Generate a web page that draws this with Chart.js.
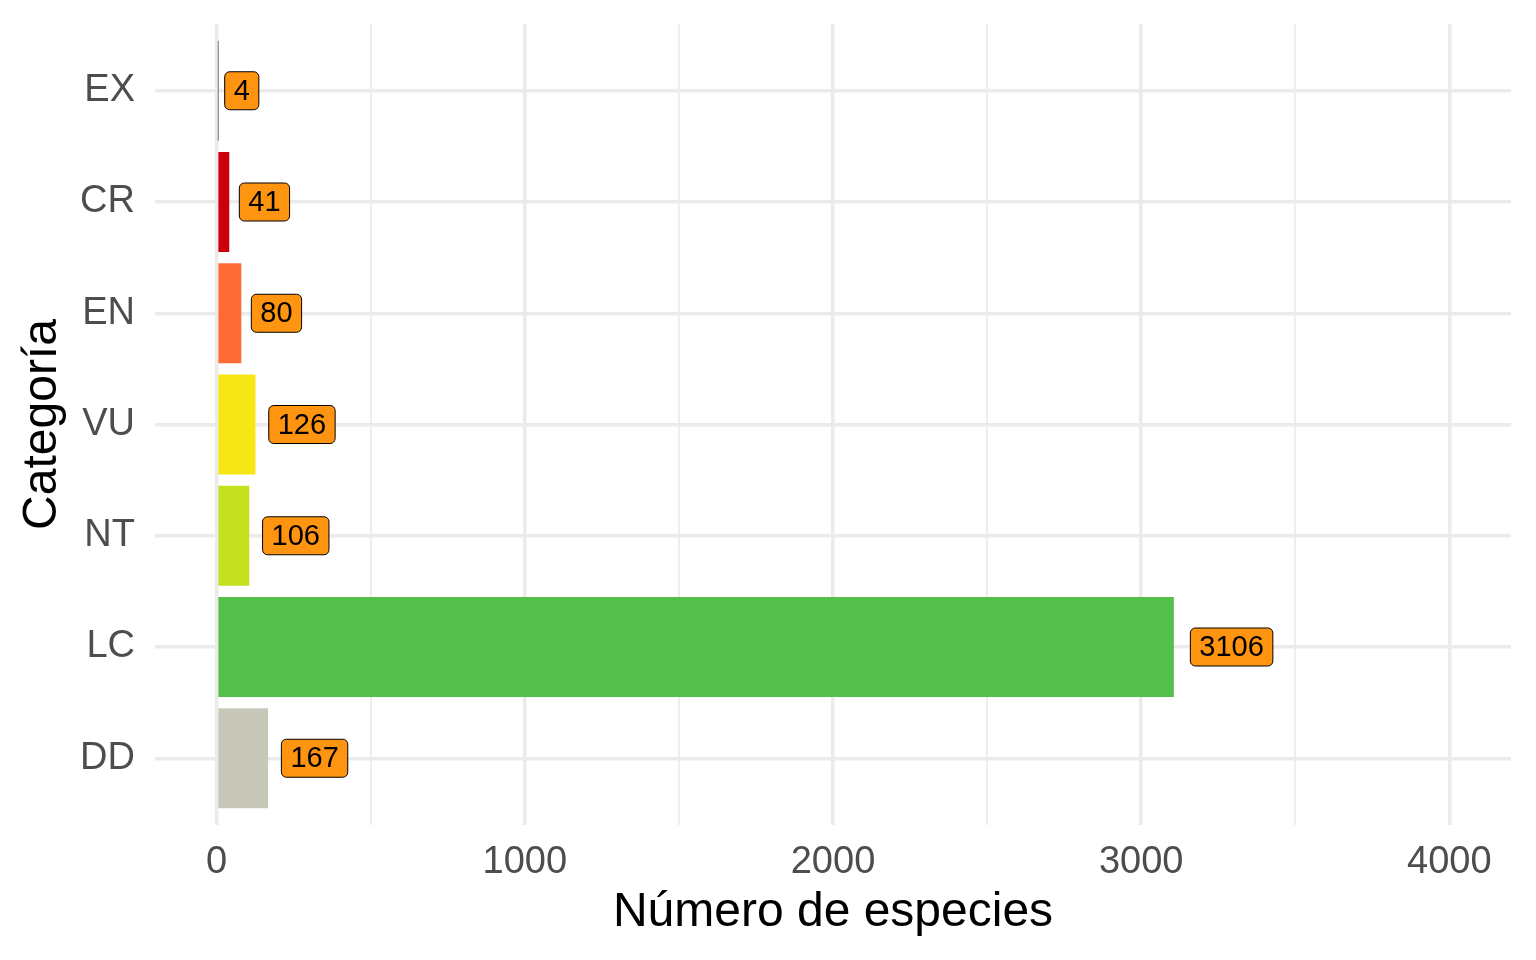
<!DOCTYPE html>
<html lang="es">
<head>
    <meta charset="utf-8" />
    <title>Especies por categoría</title>
    <script src="https://cdn.jsdelivr.net/npm/chart.js"></script>
    <style>
        html, body {
            margin: 0;
            padding: 0;
            background: #fff;
        }
        #divChart {
            width: 1536px;
            height: 960px;
        }
    </style>
</head>
<body>
    <div id="divChart">
        <canvas id="especiesChart"></canvas>
    </div>
    <script>
        var categorias = ['EX', 'CR', 'EN', 'VU', 'NT', 'LC', 'DD'];
        var especies = [4, 41, 80, 126, 106, 3106, 167];
        var ticksX = [0, 500, 1000, 1500, 2000, 2500, 3000, 3500, 4000];
        var colores = ['#000000', '#CC000A', '#FF6B35', '#F7E616', '#C5E01F', '#54BF4B', '#C8C8BA'];

        var fuente = '"Liberation Sans", Arial, sans-serif';

        // etiquetas naranjas a la derecha de cada barra (hjust = -0.2)
        var etiquetas = {
            id: 'etiquetas',
            afterDatasetsDraw: function (chart) {
                var ctx = chart.ctx;
                var xs = chart.scales.x;
                var ys = chart.scales.y;
                ctx.save();
                ctx.font = '29px ' + fuente;
                ctx.textBaseline = 'middle';
                ctx.textAlign = 'center';
                especies.forEach(function (v, i) {
                    var txt = String(v);
                    var w = ctx.measureText(txt).width + 18;
                    var h = 38;
                    var x0 = xs.getPixelForValue(v) + 0.2 * w;
                    var yc = ys.getPixelForValue(i);
                    ctx.beginPath();
                    ctx.roundRect(x0, yc - h / 2, w, h, 5);
                    ctx.fillStyle = '#FF9410';
                    ctx.fill();
                    ctx.lineWidth = 1;
                    ctx.strokeStyle = '#000';
                    ctx.stroke();
                    ctx.fillStyle = '#000';
                    ctx.fillText(txt, x0 + w / 2, yc + 1);
                });
                ctx.restore();
            }
        };

        var ctx = document.getElementById('especiesChart').getContext('2d');
        var myBarChart = new Chart(ctx, {
            type: 'bar',
            data: {
                datasets: [{
                    data: especies.map(function (v, i) { return { x: v, y: i }; }),
                    backgroundColor: colores,
                    borderWidth: 0,
                    barPercentage: 0.9,
                    categoryPercentage: 1
                }]
            },
            plugins: [etiquetas],
            options: {
                indexAxis: 'y',
                responsive: true,
                maintainAspectRatio: false,
                animation: false,
                layout: {
                    padding: { top: 24, right: 25, left: 0, bottom: 0 }
                },
                plugins: {
                    legend: { display: false },
                    tooltip: { enabled: false }
                },
                scales: {
                    x: {
                        type: 'linear',
                        min: -200,
                        max: 4200,
                        afterBuildTicks: function (s) {
                            s.ticks = ticksX.map(function (v) { return { value: v }; });
                        },
                        afterFit: function (s) {
                            s.height = 135;
                            s.paddingLeft = 0;
                            s.paddingRight = 0;
                        },
                        border: { display: false },
                        grid: {
                            color: '#EBEBEB',
                            drawTicks: false,
                            lineWidth: function (c) {
                                return c.tick && c.tick.value % 1000 === 0 ? 3.5 : 1.75;
                            }
                        },
                        ticks: {
                            autoSkip: false,
                            maxRotation: 0,
                            padding: 15,
                            color: '#4D4D4D',
                            font: { family: fuente, size: 38 },
                            callback: function (v) {
                                return v % 1000 === 0 ? String(v) : '';
                            }
                        },
                        title: {
                            display: true,
                            text: 'Número de especies',
                            color: '#000',
                            font: { family: fuente, size: 48, lineHeight: 1.2 },
                            padding: { top: 0, bottom: 18 }
                        }
                    },
                    y: {
                        type: 'linear',
                        reverse: true,
                        offset: false,
                        min: -0.6,
                        max: 6.6,
                        afterBuildTicks: function (s) {
                            s.ticks = categorias.map(function (c, i) { return { value: i }; });
                        },
                        afterFit: function (s) {
                            s.width = 155;
                            s.paddingTop = 0;
                            s.paddingBottom = 0;
                        },
                        border: { display: false },
                        grid: {
                            offset: false,
                            color: '#EBEBEB',
                            drawTicks: false,
                            lineWidth: 3.5
                        },
                        ticks: {
                            autoSkip: false,
                            padding: 20,
                            color: '#4D4D4D',
                            font: { family: fuente, size: 38 },
                            callback: function (v) {
                                return categorias[v];
                            }
                        },
                        title: {
                            display: true,
                            text: 'Categoría',
                            color: '#000',
                            font: { family: fuente, size: 48, lineHeight: 1.2 },
                            padding: { top: 14, bottom: 0 }
                        }
                    }
                }
            }
        });
    </script>
</body>
</html>
